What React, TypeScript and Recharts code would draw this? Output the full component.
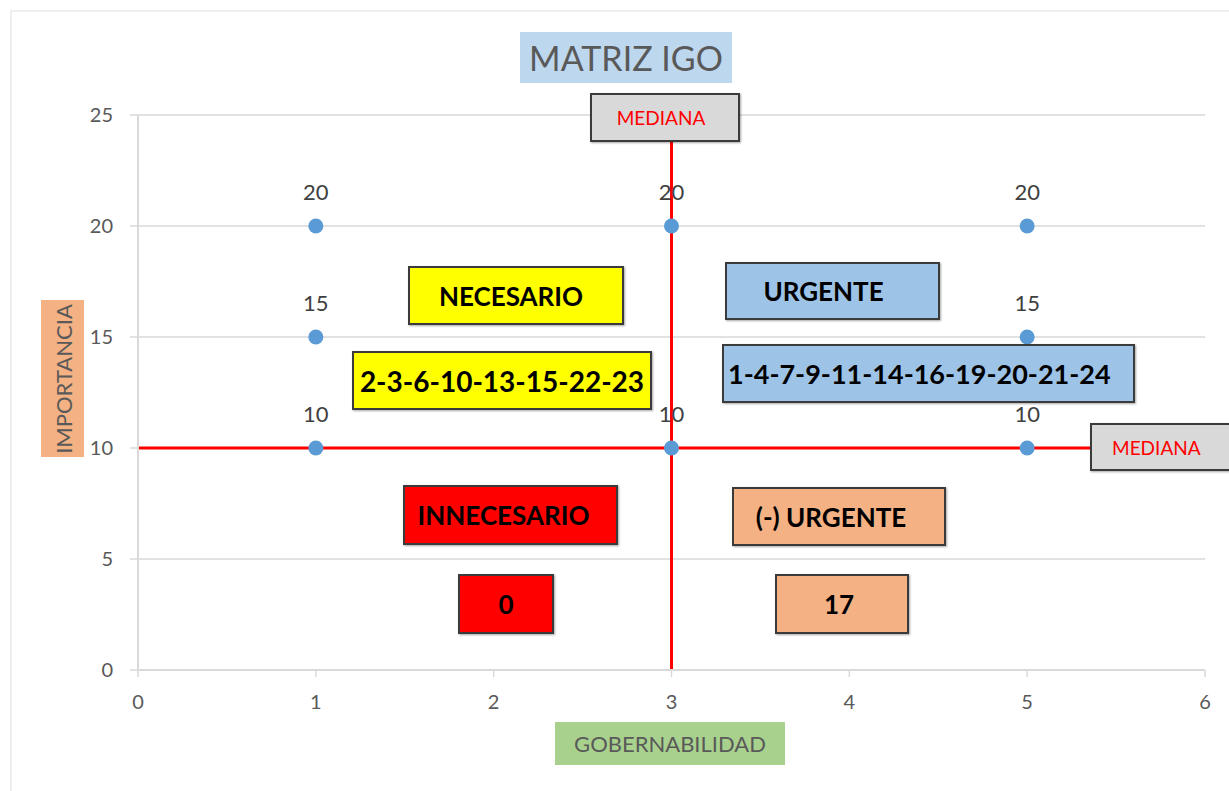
import React from "react";
import {
  ScatterChart,
  Scatter,
  XAxis,
  YAxis,
  CartesianGrid,
  ReferenceLine,
} from "recharts";

// puntos de la matriz (gobernabilidad, importancia)
const gobernabilidad = [1, 1, 1, 3, 3, 5, 5, 5];
const importancia = [20, 15, 10, 20, 10, 20, 15, 10];
const xTicks = [0, 1, 2, 3, 4, 5, 6];
const yTicks = [0, 5, 10, 15, 20, 25];
const medianaX = 3;
const medianaY = 10;

const titulo = "MATRIZ IGO";
const ejeX = "GOBERNABILIDAD";
const ejeY = "IMPORTANCIA";
const cuadrantes = ["NECESARIO", "URGENTE", "INNECESARIO", "(-) URGENTE"];
const listas = ["2-3-6-10-13-15-22-23", "1-4-7-9-11-14-16-19-20-21-24", "0", "17"];

const FONT = "Lato, 'Open Sans', sans-serif";

const data = gobernabilidad.map((x, i) => ({ x, y: importancia[i] }));

function Punto(props: any) {
  const { cx, cy, payload } = props;
  return (
    <g>
      <circle cx={cx} cy={cy} r={7.5} fill="#5b9bd5" />
      <text x={cx} y={cy - 26} textAnchor="middle" fontSize={22} fill="#404040" fontFamily={FONT}>
        {payload.y}
      </text>
    </g>
  );
}

function Caja({ left, top, width, height, bg, children, style }: any) {
  return (
    <div
      style={{
        position: "absolute",
        left,
        top,
        width,
        height,
        background: bg,
        border: "2px solid #3b3b3b",
        boxSizing: "border-box",
        boxShadow: "1px 1px 2px rgba(0,0,0,0.35)",
        display: "flex",
        alignItems: "center",
        justifyContent: "center",
        fontFamily: FONT,
        fontWeight: 700,
        color: "#000",
        whiteSpace: "nowrap",
        ...style,
      }}
    >
      {children}
    </div>
  );
}

export default function App() {
  return (
    <div style={{ position: "absolute", left: 0, top: 0, width: 1229, height: 791, background: "#fff", overflow: "hidden" }}>
      <div
        style={{
          position: "absolute",
          left: 10,
          top: 10,
          width: 1229,
          height: 791,
          borderLeft: "2px solid #eeeeee",
          borderTop: "2px solid #eeeeee",
        }}
      />
      <ScatterChart
        width={1229}
        height={791}
        margin={{ top: 115, right: 24, bottom: 81, left: 78 }}
        style={{ position: "absolute", left: 0, top: 0 }}
      >
        <CartesianGrid horizontal vertical={false} stroke="#d9d9d9" strokeWidth={1.5} />
        <XAxis
          type="number"
          dataKey="x"
          domain={[0, 6]}
          ticks={xTicks}
          height={40}
          tickSize={7}
          tickMargin={18}
          axisLine={{ stroke: "#d9d9d9", strokeWidth: 2 }}
          tickLine={{ stroke: "#d9d9d9", strokeWidth: 1.5 }}
          tick={{ fill: "#595959", fontSize: 20, fontFamily: FONT }}
        />
        <YAxis
          type="number"
          dataKey="y"
          domain={[0, 25]}
          ticks={yTicks}
          width={60}
          tickSize={8}
          tickMargin={17}
          axisLine={{ stroke: "#d9d9d9", strokeWidth: 2 }}
          tickLine={{ stroke: "#d9d9d9", strokeWidth: 1.5 }}
          tick={{ fill: "#595959", fontSize: 20, fontFamily: FONT }}
        />
        <Scatter data={data} shape={<Punto />} isAnimationActive={false} />
        <ReferenceLine y={medianaY} stroke="#ff0000" strokeWidth={3} />
        <ReferenceLine x={medianaX} stroke="#ff0000" strokeWidth={3} />
      </ScatterChart>

      <div
        style={{
          position: "absolute",
          left: 520,
          top: 32,
          width: 212,
          height: 51,
          background: "#bdd7ee",
          display: "flex",
          alignItems: "center",
          justifyContent: "center",
          fontFamily: FONT,
          fontSize: 34,
          color: "#595959",
        }}
      >
        {titulo}
      </div>

      <Caja left={590} top={93} width={150} height={49} bg="#d9d9d9" style={{ color: "#ff0000", fontWeight: 400, fontSize: 19, paddingRight: 8 }}>
        MEDIANA
      </Caja>
      <Caja left={1090} top={423} width={150} height={48} bg="#d9d9d9" style={{ color: "#ff0000", fontWeight: 400, fontSize: 19, justifyContent: "flex-start", paddingLeft: 20 }}>
        MEDIANA
      </Caja>

      <Caja left={408} top={266} width={216} height={59} bg="#ffff00" style={{ fontSize: 26, paddingRight: 10 }}>
        {cuadrantes[0]}
      </Caja>
      <Caja left={352} top={351} width={300} height={59} bg="#ffff00" style={{ fontSize: 28 }}>
        {listas[0]}
      </Caja>
      <Caja left={725} top={262} width={215} height={58} bg="#9dc3e6" style={{ fontSize: 26, paddingRight: 18 }}>
        {cuadrantes[1]}
      </Caja>
      <Caja left={722} top={344} width={413} height={59} bg="#9dc3e6" style={{ fontSize: 27, justifyContent: "flex-start", paddingLeft: 4 }}>
        {listas[1]}
      </Caja>
      <Caja left={403} top={485} width={215} height={60} bg="#ff0000" style={{ fontSize: 26, paddingRight: 14 }}>
        {cuadrantes[2]}
      </Caja>
      <Caja left={458} top={574} width={96} height={60} bg="#ff0000" style={{ fontSize: 26 }}>
        {listas[2]}
      </Caja>
      <Caja left={732} top={487} width={214} height={59} bg="#f4b183" style={{ fontSize: 26, paddingRight: 16 }}>
        {cuadrantes[3]}
      </Caja>
      <Caja left={775} top={574} width={134} height={60} bg="#f4b183" style={{ fontSize: 26, paddingRight: 6 }}>
        {listas[3]}
      </Caja>

      <div
        style={{
          position: "absolute",
          left: 555,
          top: 722,
          width: 230,
          height: 43,
          background: "#a9d18e",
          display: "flex",
          alignItems: "center",
          justifyContent: "center",
          fontFamily: FONT,
          fontSize: 22,
          color: "#595959",
        }}
      >
        {ejeX}
      </div>
      <div
        style={{
          position: "absolute",
          left: 41,
          top: 300,
          width: 43,
          height: 157,
          background: "#f4b183",
          overflow: "hidden",
        }}
      >
        <div
          style={{
            position: "absolute",
            left: 21.5,
            top: 78.5,
            transform: "translate(-50%, -50%) rotate(-90deg)",
            fontFamily: FONT,
            fontSize: 22,
            color: "#595959",
            whiteSpace: "nowrap",
          }}
        >
          {ejeY}
        </div>
      </div>
    </div>
  );
}
